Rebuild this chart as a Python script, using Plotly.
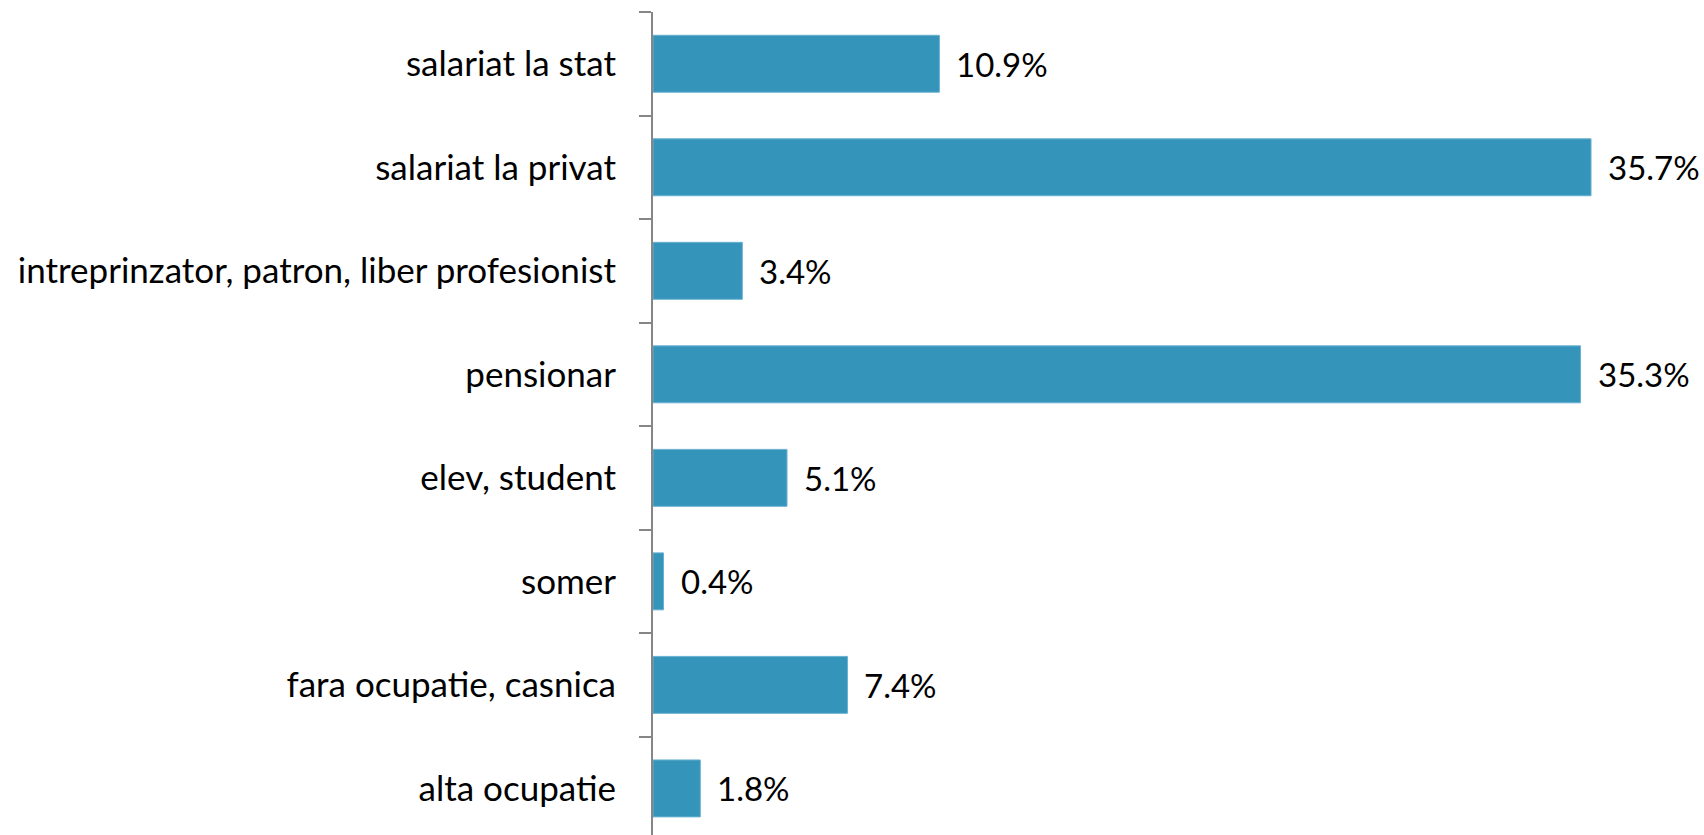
import plotly.graph_objects as go

# Occupation categories (top to bottom) and their shares in percent
categories = [
    "salariat la stat",
    "salariat la privat",
    "intreprinzator, patron, liber profesionist",
    "pensionar",
    "elev, student",
    "somer",
    "fara ocupatie, casnica",
    "alta ocupatie",
]
shares = [10.9, 35.7, 3.4, 35.3, 5.1, 0.4, 7.4, 1.8]
value_labels = ["10.9%", "35.7%", "3.4%", "35.3%", "5.1%", "0.4%", "7.4%", "1.8%"]

FONT = "Lato"

fig = go.Figure(
    go.Bar(
        x=shares,
        y=categories,
        orientation="h",
        marker=dict(color="#3594BA", line=dict(color="#6AB0D2", width=1)),
        hoverinfo="skip",
    )
)

# value labels placed just to the right of each bar end
for cat, val, lab in zip(categories, shares, value_labels):
    fig.add_annotation(
        x=val, y=cat, text=lab, showarrow=False,
        xanchor="left", yanchor="middle", xshift=15,
        font=dict(family=FONT, size=33, color="#000000"),
    )

fig.update_layout(
    width=1704,
    height=835,
    margin=dict(l=653, r=0, t=12, b=0),
    paper_bgcolor="white",
    plot_bgcolor="white",
    bargap=0.45,
    showlegend=False,
    font=dict(family=FONT, size=35, color="#000000"),
    xaxis=dict(
        range=[0, 40],
        visible=False,
        showgrid=False,
        zeroline=False,
    ),
    yaxis=dict(
        categoryorder="array",
        categoryarray=categories,
        range=[7.45, -0.5],
        showline=True,
        linecolor="#868686",
        linewidth=2,
        ticks="outside",
        tickson="boundaries",
        ticklen=12,
        tickwidth=2,
        tickcolor="#868686",
        ticklabelstandoff=28,
        showgrid=False,
        zeroline=False,
        tickfont=dict(family=FONT, size=35, color="#000000"),
    ),
)

fig.write_html("out.html")
